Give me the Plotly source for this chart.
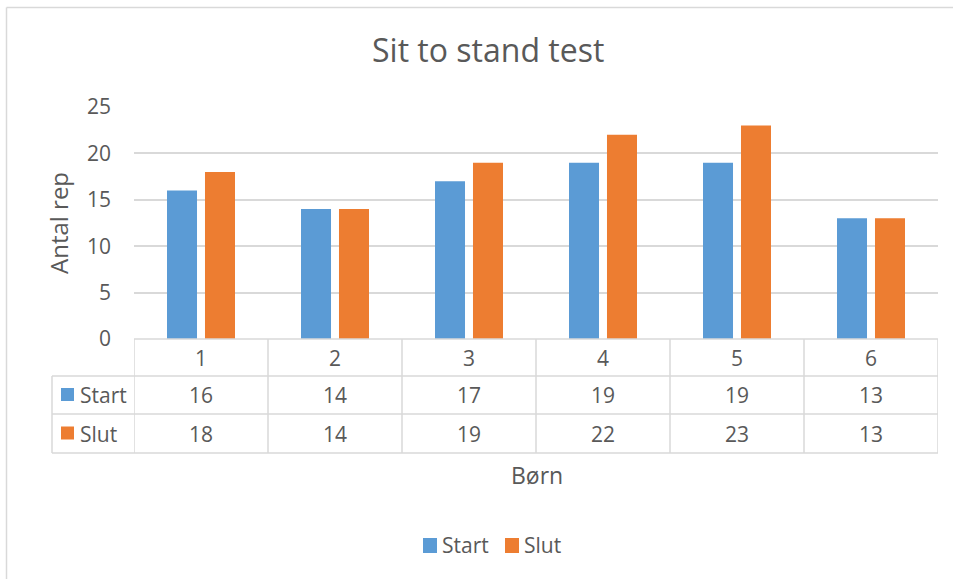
import plotly.graph_objects as go

# ---- data ----
categories = ["1", "2", "3", "4", "5", "6"]
series_names = ["Start", "Slut"]
start_values = [16, 14, 17, 19, 19, 13]
slut_values = [18, 14, 19, 22, 23, 13]
series_values = [start_values, slut_values]
series_colors = ["#5B9BD5", "#ED7D31"]
y_ticks = [0, 5, 10, 15, 20, 25]

title_text = "Sit to stand test"
y_title = "Antal rep"
x_title = "Børn"

W, H = 953, 579
L, R, T, B = 134, 938, 107, 339  # plot area in pixels
FONT = "Open Sans"
TXT = "#595959"
GRID = "#D9D9D9"


def px(x):
    return (x - L) / (R - L)


def py(y):
    return (B - y) / (B - T)


def text(x, y, s, size, xref="paper", xanchor="center", angle=0):
    return dict(x=x, y=y, xref=xref, yref="paper", text=s, showarrow=False,
                xanchor=xanchor, yanchor="middle", textangle=angle,
                font=dict(family=FONT, size=size, color=TXT))


fig = go.Figure()
x_idx = list(range(1, len(categories) + 1))
for name, vals, col in zip(series_names, series_values, series_colors):
    fig.add_trace(go.Bar(x=x_idx, y=vals, name=name, marker_color=col,
                         marker_line_width=0, showlegend=False))

shapes = []
ann = []

# chart border (top & left)
shapes.append(dict(type="line", xref="paper", yref="paper", x0=px(6.5), x1=px(W + 2),
                   y0=py(7.5), y1=py(7.5), line=dict(color=GRID, width=1.5)))
shapes.append(dict(type="line", xref="paper", yref="paper", x0=px(6.5), x1=px(6.5),
                   y0=py(7.5), y1=py(H + 2), line=dict(color=GRID, width=1.5)))

# data table
row_lines = [339, 376, 414, 453]
tab_left = 52
for i, yy in enumerate(row_lines):
    shapes.append(dict(type="line", xref="paper", yref="paper",
                       x0=px(L if i == 0 else tab_left), x1=px(R),
                       y0=py(yy), y1=py(yy), line=dict(color=GRID, width=1.5)))
for k in range(len(categories) + 1):
    shapes.append(dict(type="line", xref="x", yref="paper", x0=0.5 + k, x1=0.5 + k,
                       y0=py(339), y1=py(453), line=dict(color=GRID, width=1.5)))
shapes.append(dict(type="line", xref="paper", yref="paper", x0=px(tab_left), x1=px(tab_left),
                   y0=py(376), y1=py(453), line=dict(color=GRID, width=1.5)))

row_centers = [(339 + 376) / 2, (376 + 414) / 2, (414 + 453) / 2]
for xi, c in zip(x_idx, categories):
    ann.append(text(xi, py(row_centers[0]), c, 21, xref="x"))
for r, (name, vals, col) in enumerate(zip(series_names, series_values, series_colors)):
    yc = row_centers[r + 1]
    for xi, v in zip(x_idx, vals):
        ann.append(text(xi, py(yc), str(v), 21, xref="x"))
    shapes.append(dict(type="rect", xref="paper", yref="paper", x0=px(61), x1=px(74),
                       y0=py(yc - 7), y1=py(yc + 6), fillcolor=col, line=dict(width=0)))
    ann.append(text(px(78), py(yc), name, 21, xanchor="left"))

# legend (bottom)
leg_x = [423, 505]
for name, col, lx in zip(series_names, series_colors, leg_x):
    shapes.append(dict(type="rect", xref="paper", yref="paper", x0=px(lx), x1=px(lx + 14),
                       y0=py(538), y1=py(553), fillcolor=col, line=dict(width=0)))
    ann.append(text(px(lx + 17), py(545), name, 21, xanchor="left"))

# titles
ann.append(text(px(488), py(49), title_text, 32))
ann.append(text(px(58), 0.5, y_title, 24, angle=-90))
ann.append(text(px(537), py(475), x_title, 23))

fig.update_layout(
    width=W, height=H,
    margin=dict(l=L, r=W - R, t=T, b=H - B, pad=0),
    paper_bgcolor="white", plot_bgcolor="white",
    barmode="group", bargap=0.433, bargroupgap=0.21,
    shapes=shapes, annotations=ann,
    font=dict(family=FONT, color=TXT),
)
fig.update_xaxes(range=[0.5, len(categories) + 0.5], showticklabels=False, showgrid=False,
                 zeroline=False, showline=False, fixedrange=True)
fig.update_yaxes(range=[0, 25], tickvals=y_ticks, showgrid=True, gridcolor=GRID, gridwidth=1.5,
                 zeroline=False, showline=False, ticks="", ticklabelstandoff=22,
                 tickfont=dict(family=FONT, size=21, color=TXT), fixedrange=True)

fig.write_html("out.html", config={"displayModeBar": False},
               post_script="document.body.style.margin='0';document.body.style.overflow='hidden';")
